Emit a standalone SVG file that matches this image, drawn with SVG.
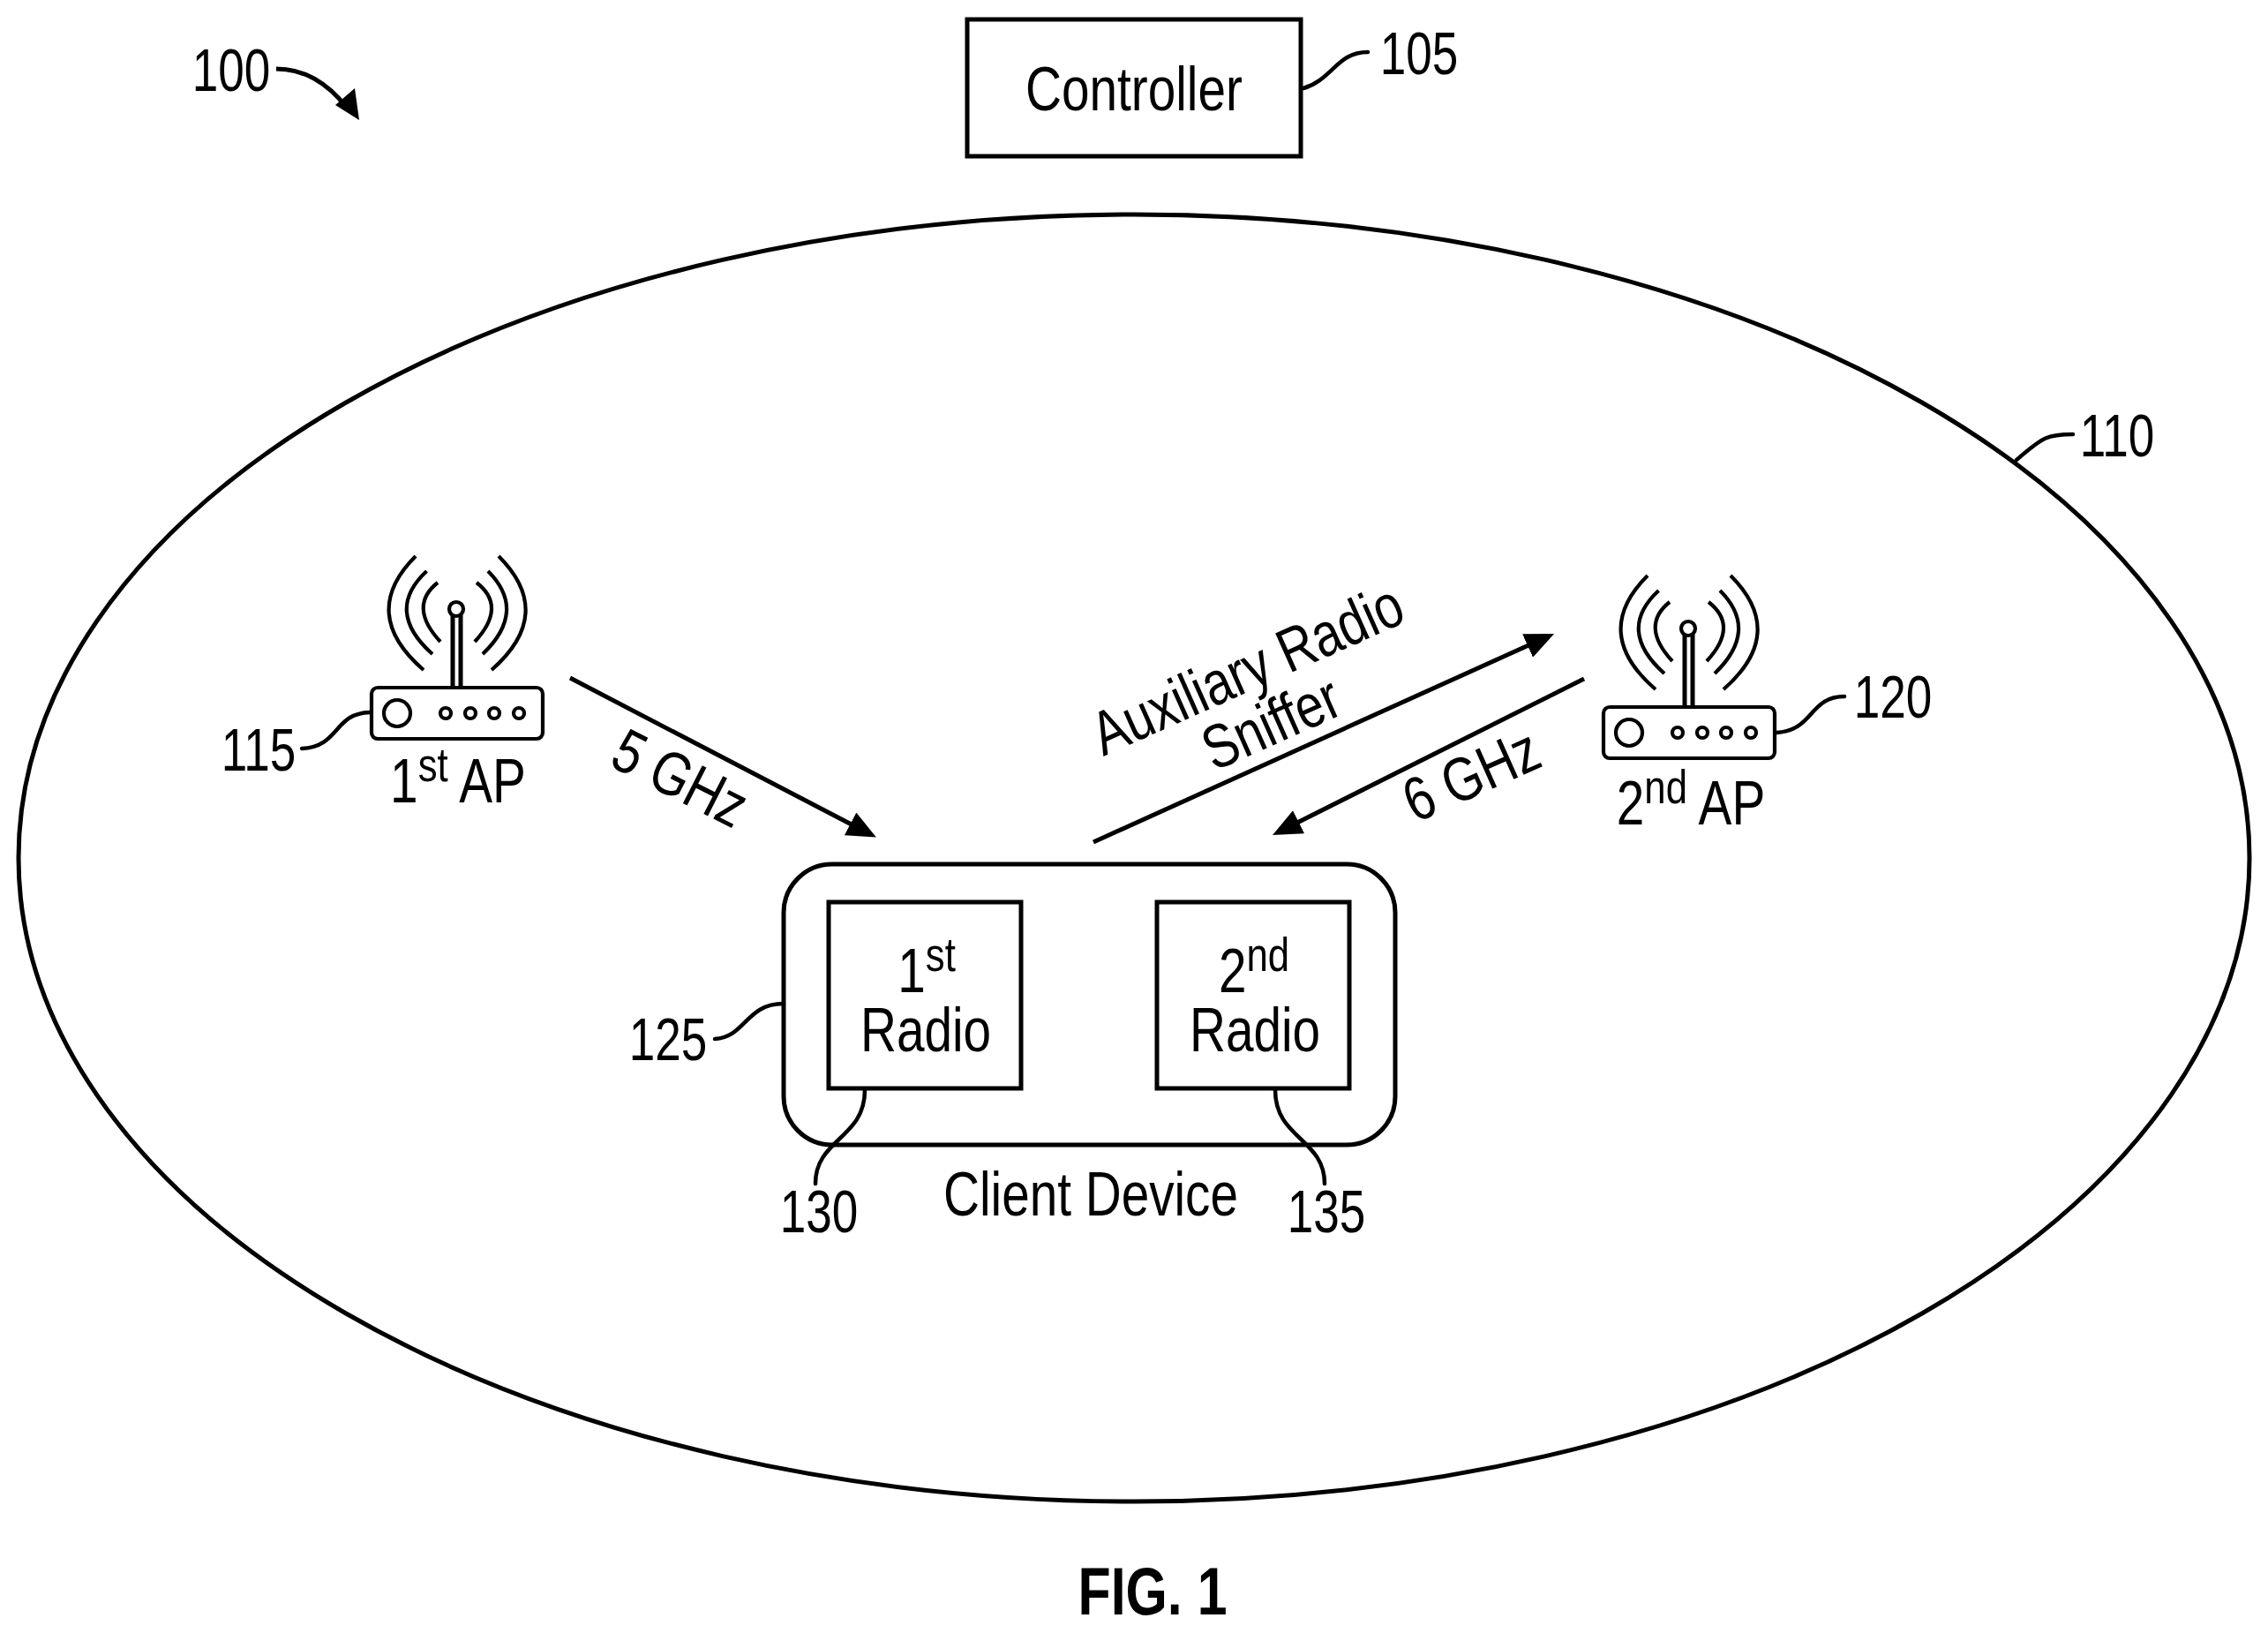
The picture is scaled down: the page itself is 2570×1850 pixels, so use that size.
<svg xmlns="http://www.w3.org/2000/svg" width="2570" height="1850" viewBox="0 0 2570 1850">
<style>
text{font-family:"Liberation Sans",Arial,sans-serif;font-size:70px;fill:#000;text-anchor:middle}
.n{font-size:68px}
.s{fill:none;stroke:#000;stroke-width:5}
.t{fill:none;stroke:#000;stroke-width:4.200}
.l{fill:none;stroke:#000;stroke-width:4.500;stroke-linecap:round}
.sup{font-size:54px}
.b{font-weight:bold;font-size:76px}
</style>
<defs>
<marker id="ah" markerUnits="userSpaceOnUse" markerWidth="33" markerHeight="29" viewBox="0 0 33 29" refX="23" refY="14.500" orient="auto"><path d="M0,0L33,14.500L0,29z" fill="#000"/></marker>
<g id="ap">
<rect class="t" x="421" y="779" width="194" height="58" rx="7"/>
<circle class="t" cx="450" cy="808" r="15"/>
<circle class="t" cx="505" cy="808" r="6"/><circle class="t" cx="533" cy="808" r="6"/><circle class="t" cx="560" cy="808" r="6"/><circle class="t" cx="588" cy="808" r="6"/>
<path class="s" d="M513,697V780M522,697V780"/>
<circle class="t" cx="517" cy="690" r="8"/>
<path class="t" d="M471,630Q406,695 480,759M565,630Q630,695 557,759M483.500,647Q435,692 490,741M553,647Q598,692 547,741M496,660Q462,687 499,727M540,660Q575,687 538,727"/>
</g>
</defs>
<g id="network"><ellipse class="s" cx="1285" cy="972" rx="1264" ry="729"/><path class="l" d="M2285,521C2315,495 2320,492 2349,492"/><text class="n" transform="translate(2399,517) scale(.78,1)">110</text></g>
<g id="diagram-label"><text class="n" transform="translate(262,103) scale(.78,1)">100</text></g>
<g id="controller"><rect class="s" x="1096" y="22" width="378" height="155"/><text transform="translate(1285,125) scale(.81,1)">Controller</text><text class="n" transform="translate(1608,84) scale(.78,1)">105</text></g>
<g id="ap1"><use href="#ap"/><text class="n" transform="translate(293,873) scale(.78,1)">115</text><text transform="translate(519,909) scale(.81,1)">1<tspan class="sup" dy="-24">st</tspan><tspan dy="24"> AP</tspan></text></g>
<g id="ap2"><use href="#ap" x="1396" y="22"/><text class="n" transform="translate(2145,813) scale(.78,1)">120</text><text transform="translate(1916,934) scale(.81,1)">2<tspan class="sup" dy="-24">nd</tspan><tspan dy="24"> AP</tspan></text></g>
<g id="client"><rect class="s" x="888" y="979" width="693" height="318" rx="55"/><text transform="translate(1236,1377) scale(.81,1)">Client Device</text><text class="n" transform="translate(757,1201) scale(.78,1)">125</text></g>
<g id="radio1"><rect class="s" x="939" y="1022" width="218" height="211"/><text transform="translate(1050,1124) scale(.81,1)">1<tspan class="sup" dy="-24">st</tspan></text><text transform="translate(1049,1191) scale(.81,1)">Radio</text><text class="n" transform="translate(928,1396) scale(.78,1)">130</text></g>
<g id="radio2"><rect class="s" x="1311" y="1022" width="218" height="211"/><text transform="translate(1421,1124) scale(.81,1)">2<tspan class="sup" dy="-24">nd</tspan></text><text transform="translate(1422,1191) scale(.81,1)">Radio</text><text class="n" transform="translate(1503,1396) scale(.78,1)">135</text></g>
<g id="connectors">
<path class="s" marker-end="url(#ah)" d="M646,768L984,944"/>
<path class="s" marker-end="url(#ah)" d="M1239,954L1752,722"/>
<path class="s" marker-end="url(#ah)" d="M1795,769L1451,941.500"/>
<path class="l" d="M1477,100C1510,90 1515,59 1550,59"/>
<path class="s" d="M313,78C345,78 372,95 393,122"/><path d="M407,136L380,119L402,100z"/>
<path class="l" d="M342,848C385,846 378,808 419,807"/>
<path class="l" d="M2013,830C2055,828 2050,789 2090,789"/>
<path class="l" d="M810,1177C845,1175 845,1137 888,1137"/>
<path class="l" d="M980,1235C980,1290 924,1290 924,1341"/>
<path class="l" d="M1445,1235C1445,1290 1501,1290 1501,1341"/>
</g>
<g id="labels">
<text transform="translate(760,903) rotate(27) scale(.81,1)">5 GHz</text>
<text transform="translate(1423,780) rotate(-24) scale(.81,1)">Auxiliary Radio</text>
<text transform="translate(1450,841) rotate(-24) scale(.81,1)">Sniffer</text>
<text transform="translate(1677,900) rotate(-24) scale(.81,1)">6 GHz</text>
<text class="b" transform="translate(1306,1829) scale(.8,1)">FIG. 1</text>
</g>
</svg>
